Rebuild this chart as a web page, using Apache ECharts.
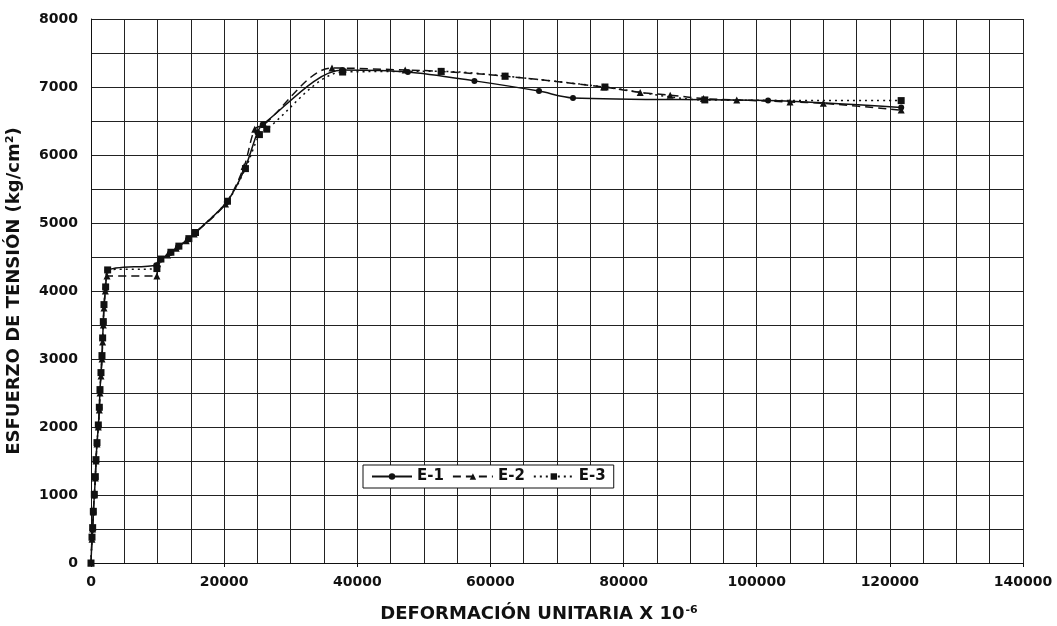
<!DOCTYPE html>
<html>
<head>
<meta charset="utf-8">
<script src="https://cdn.jsdelivr.net/npm/echarts@6/dist/echarts.min.js"></script>
<style>
html,body{margin:0;padding:0;background:#fff;}
#chart{width:1057px;height:626px;}
</style>
</head>
<body>
<div id="chart"></div>
<script>
// Data (x: strain ×10^-6, y: stress kg/cm²)
var seriesNames = ['E-1', 'E-2', 'E-3'];
var xTickLabels = ['0', '20000', '40000', '60000', '80000', '100000', '120000', '140000'];
var yTickLabels = ['0', '1000', '2000', '3000', '4000', '5000', '6000', '7000', '8000'];

var e1 = [
  [0,0],[150,370],[250,490],[350,740],[500,990],[650,1250],[750,1500],[900,1760],
  [1100,2010],[1250,2280],[1350,2540],[1500,2790],[1650,3040],[1750,3300],[1850,3540],
  [1950,3790],[2200,4040],[2500,4300],[9800,4380],[10400,4460],[11900,4560],[13100,4650],
  [14600,4760],[15600,4850],[20400,5310],[23100,5800],[25000,6330],[25800,6450],
  [37800,7250],[47600,7220],[57600,7090],[67300,6940],[72400,6840],[101700,6800],[121700,6700]
];
var e2 = [
  [0,0],[150,350],[250,500],[350,750],[500,1000],[650,1250],[750,1500],[900,1750],
  [1100,2000],[1250,2250],[1350,2500],[1500,2750],[1650,3000],[1750,3250],[1850,3500],
  [1950,3750],[2150,4000],[2400,4220],[9900,4220],[10000,4400],[11500,4530],[12800,4630],
  [14300,4740],[15500,4840],[20200,5280],[23000,5830],[24600,6380],[26000,6450],
  [36200,7280],[47200,7250],[52600,7230],[62200,7160],[77000,7000],[82500,6920],
  [87000,6880],[92000,6830],[97000,6810],[105000,6780],[110000,6760],[121700,6660]
];
var e3 = [
  [0,0],[150,380],[250,520],[350,760],[500,1010],[650,1270],[750,1520],[900,1770],
  [1100,2030],[1250,2290],[1350,2550],[1500,2800],[1650,3050],[1750,3310],[1850,3550],
  [1950,3800],[2200,4060],[2500,4310],[9900,4330],[10500,4470],[12000,4570],[13200,4660],
  [14700,4770],[15700,4860],[20500,5320],[23200,5800],[25300,6300],[26400,6380],
  [37800,7220],[52600,7230],[62200,7160],[77200,7000],[92200,6810],[121700,6800]
];

var font = 'DejaVu Sans, Verdana, sans-serif';
var chart = echarts.init(document.getElementById('chart'));
chart.setOption({
  backgroundColor: '#ffffff',
  animation: false,
  grid: { left: 91, right: 34, top: 19, bottom: 63, containLabel: false, outerBoundsMode: 'none' },
  legend: {
    left: 363, top: 465,
    data: seriesNames,
    backgroundColor: '#ffffff',
    borderColor: '#111', borderWidth: 1,
    padding: [4, 8, 4, 8],
    itemGap: 8, itemWidth: 40, itemHeight: 8,
    textStyle: { fontFamily: font, fontWeight: 'bold', fontSize: 15, color: '#111' }
  },
  xAxis: {
    type: 'value', min: 0, max: 140000, interval: 20000,
    name: '{a|DEFORMACIÓN UNITARIA X 10}{s|-6}',
    nameLocation: 'middle', nameGap: 42,
    nameTextStyle: {
      padding: [0, 36, 0, 0],
      rich: {
        a: { fontFamily: font, fontWeight: 'bold', fontSize: 18, color: '#111' },
        s: { fontFamily: font, fontWeight: 'bold', fontSize: 11, color: '#111', verticalAlign: 'top', padding: [0,0,8,1] }
      }
    },
    axisLine: { show: true, lineStyle: { color: '#111', width: 1 } },
    axisTick: { show: true, length: 4, lineStyle: { color: '#111' } },
    axisLabel: {
      margin: 12, fontFamily: font, fontWeight: 'bold', fontSize: 14, color: '#111',
      formatter: function (v) { return xTickLabels[Math.round(v / 20000)]; }
    },
    splitLine: { show: true, lineStyle: { color: '#222', width: 1 } },
    minorTick: { show: false, splitNumber: 4 },
    minorSplitLine: { show: true, lineStyle: { color: '#222', width: 1 } }
  },
  yAxis: {
    type: 'value', min: 0, max: 8000, interval: 1000,
    name: 'ESFUERZO DE TENSIÓN (kg/cm²)',
    nameLocation: 'middle', nameGap: 68,
    nameTextStyle: { fontFamily: font, fontWeight: 'bold', fontSize: 18, color: '#111' },
    axisLine: { show: true, lineStyle: { color: '#111', width: 1 } },
    axisTick: { show: false },
    axisLabel: {
      margin: 13, fontFamily: font, fontWeight: 'bold', fontSize: 14, color: '#111',
      formatter: function (v) { return yTickLabels[Math.round(v / 1000)]; }
    },
    splitLine: { show: true, lineStyle: { color: '#222', width: 1 } },
    minorTick: { show: false, splitNumber: 2 },
    minorSplitLine: { show: true, lineStyle: { color: '#222', width: 1 } }
  },
  series: [
    {
      name: seriesNames[0], type: 'line', data: e1, smooth: 0.3,
      symbol: 'circle', symbolSize: 6,
      itemStyle: { color: '#111' },
      lineStyle: { color: '#111', width: 1.5, type: 'solid' }
    },
    {
      name: seriesNames[1], type: 'line', data: e2, smooth: 0.3,
      symbol: 'triangle', symbolSize: 7,
      itemStyle: { color: '#111' },
      lineStyle: { color: '#111', width: 1.5, type: [8, 5] }
    },
    {
      name: seriesNames[2], type: 'line', data: e3, smooth: 0.3,
      symbol: 'rect', symbolSize: 7,
      itemStyle: { color: '#111' },
      lineStyle: { color: '#111', width: 1.5, type: [2, 4] }
    }
  ]
});
</script>
</body>
</html>
